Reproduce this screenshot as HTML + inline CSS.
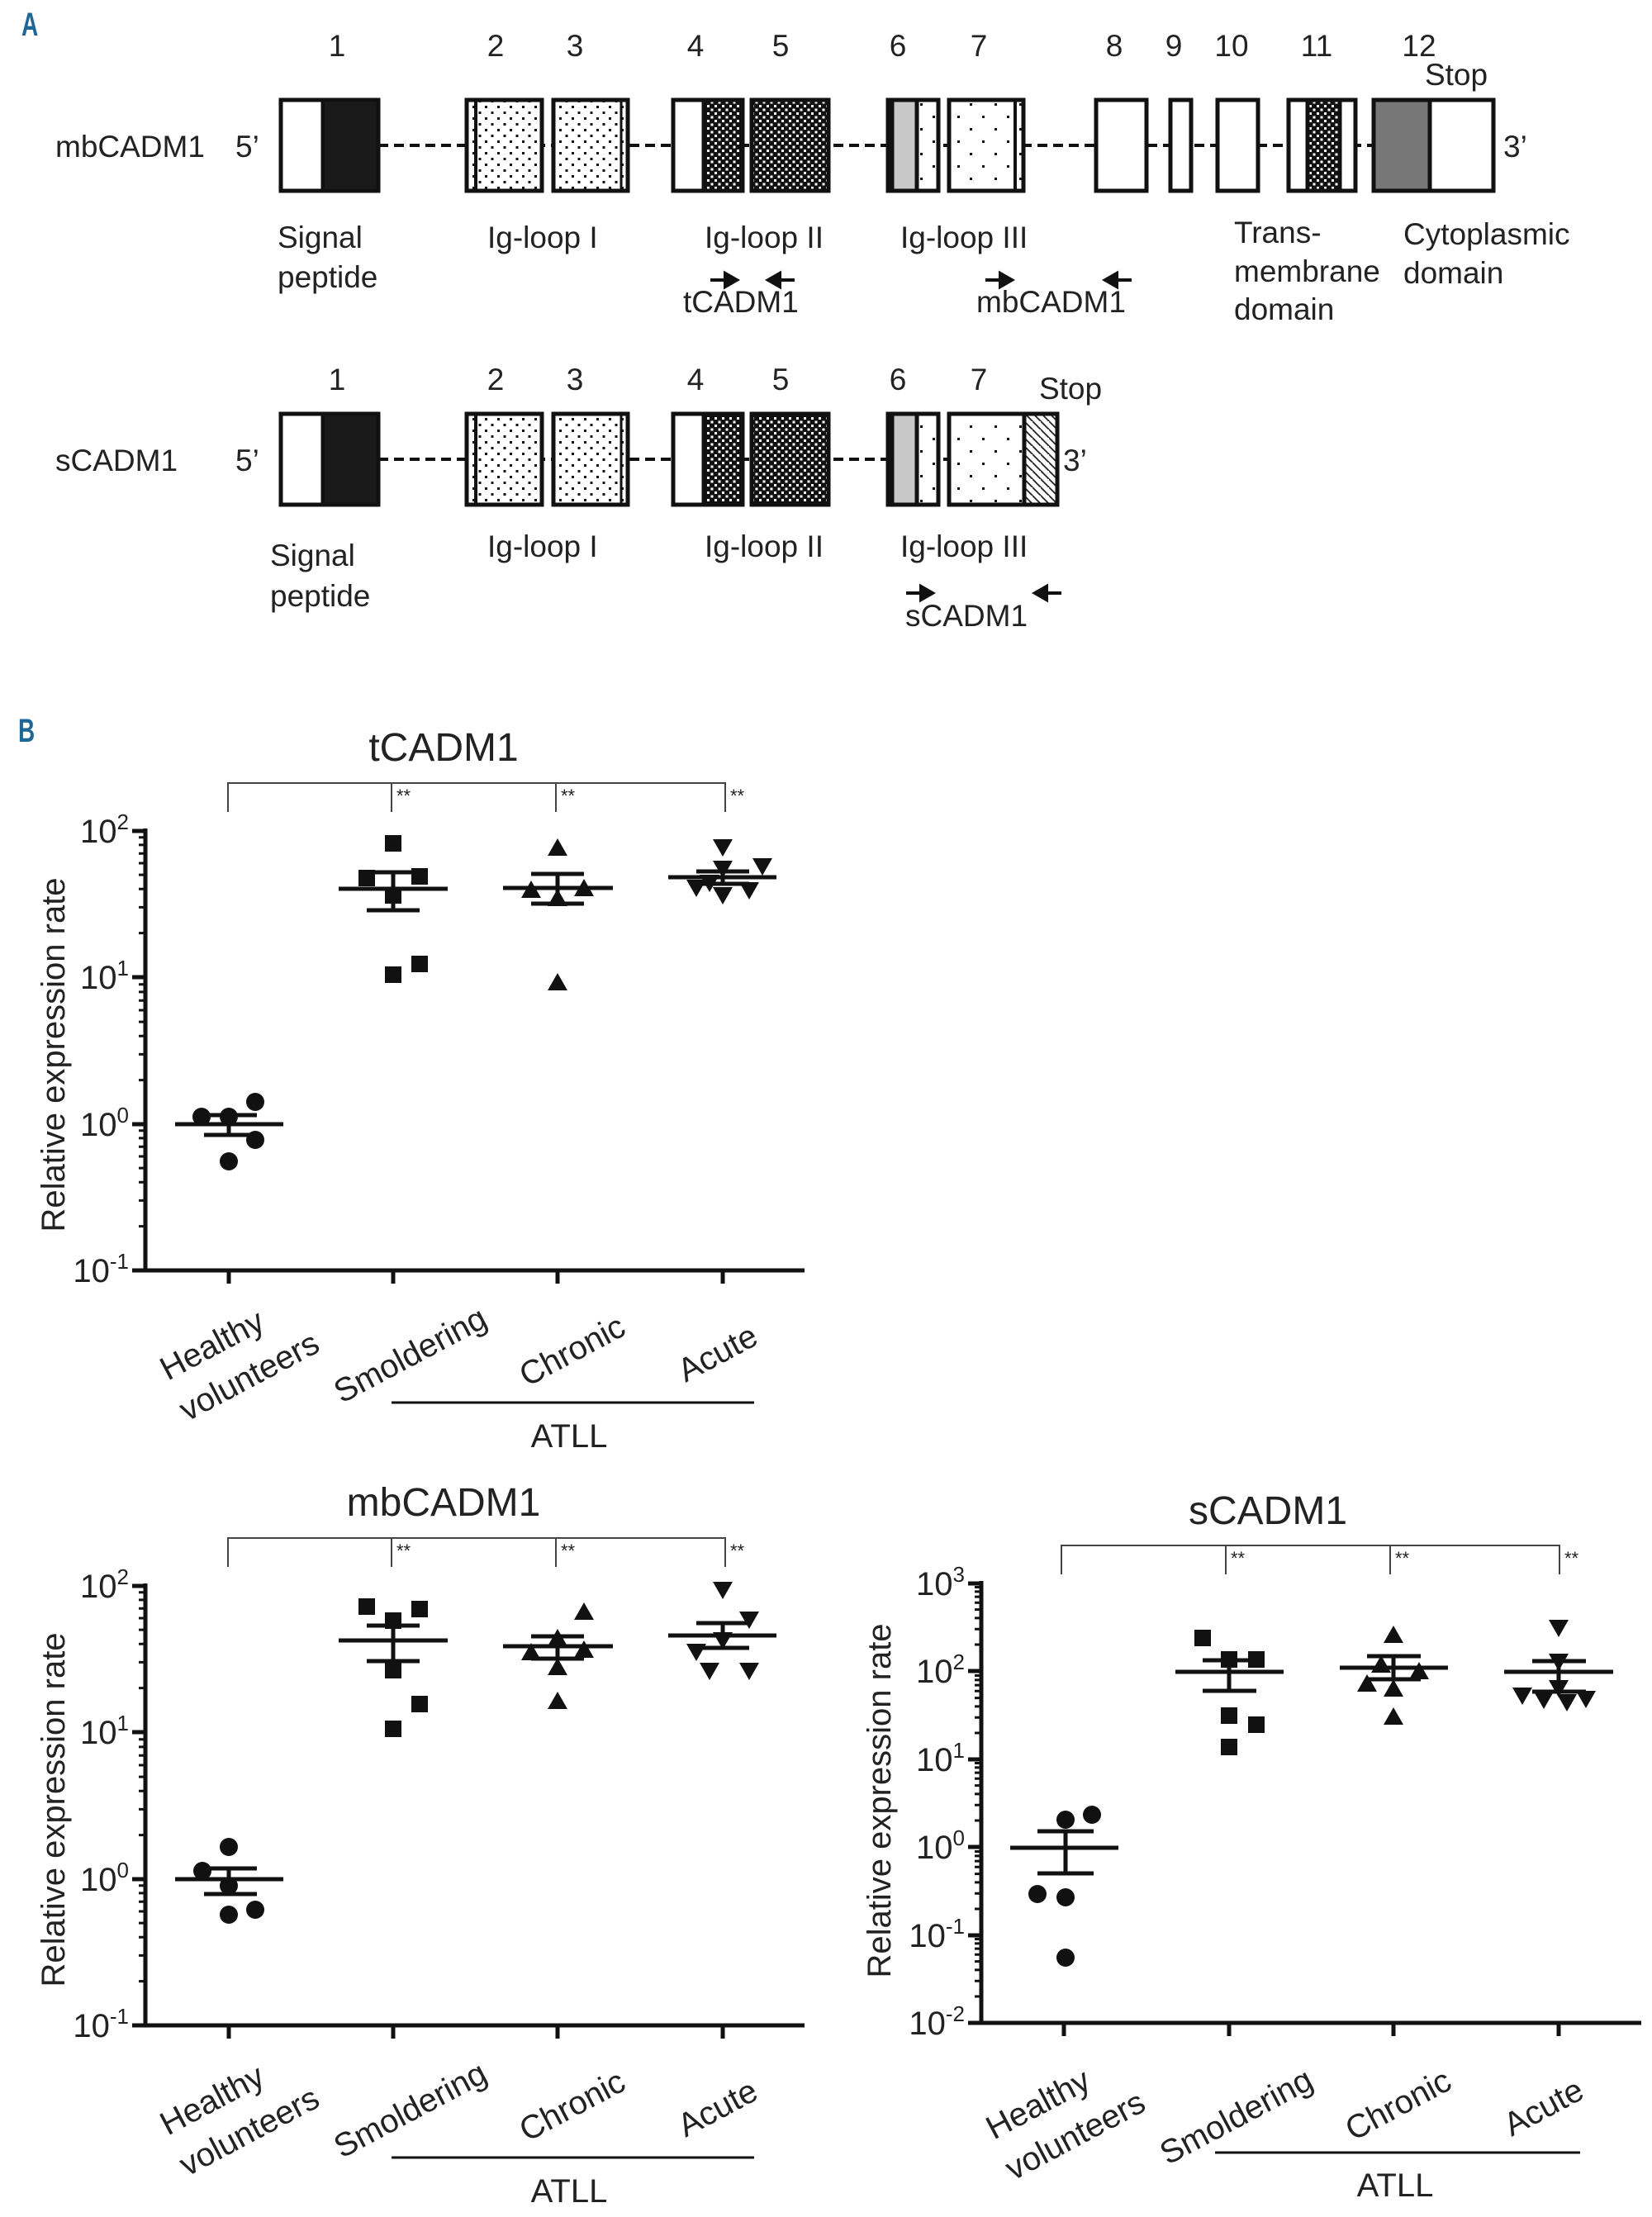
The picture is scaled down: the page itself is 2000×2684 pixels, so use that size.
<!DOCTYPE html>
<html><head><meta charset="utf-8"><style>
html,body{margin:0;padding:0;background:#fff;}
svg{display:block;font-family:"Liberation Sans",Arial,sans-serif;}
</style></head><body>
<svg width="2000" height="2684" viewBox="0 0 2000 2684" xmlns="http://www.w3.org/2000/svg">
<defs>
<pattern id="dd" width="15" height="14" patternUnits="userSpaceOnUse"><rect width="15" height="14" fill="#fff"/><rect x="2" y="2" width="3" height="3" fill="#111"/><rect x="9.5" y="9" width="3" height="3" fill="#111"/></pattern>
<pattern id="sd" width="30" height="30" patternUnits="userSpaceOnUse"><rect width="30" height="30" fill="#fff"/><rect x="4" y="5" width="3" height="3" fill="#111"/><rect x="19" y="20" width="3" height="3" fill="#111"/></pattern>
<pattern id="ch" width="9" height="9" patternUnits="userSpaceOnUse"><rect width="9" height="9" fill="#111"/><rect x="1" y="1" width="3" height="3" fill="#fff"/><rect x="5.5" y="5.5" width="3" height="3" fill="#fff"/></pattern>
<pattern id="dg" width="10" height="10" patternUnits="userSpaceOnUse"><rect width="10" height="10" fill="#fff"/><path d="M0 0 L10 10 M-5 5 L5 15" stroke="#222" stroke-width="1.8"/></pattern>
<g id="dec1"><path d="M168 -53.4H176M168 -84.6H176M168 -106.7H176M168 -123.9H176M168 -138H176M168 -149.8H176M168 -160.1H176M168 -169.2H176" stroke="#111" stroke-width="3"/></g>
<g id="dec2"><path d="M1180 -32H1188M1180 -50.8H1188M1180 -64.1H1188M1180 -74.4H1188M1180 -82.8H1188M1180 -89.9H1188M1180 -96.1H1188M1180 -101.5H1188" stroke="#111" stroke-width="3"/></g>
</defs>

<text x="26" y="43" font-size="40" font-weight="bold" fill="#1f6696" transform="translate(26 0) scale(0.7 1) translate(-26 0)">A</text>
<text x="22" y="898" font-size="40" font-weight="bold" fill="#1f6696" transform="translate(22 0) scale(0.7 1) translate(-22 0)">B</text>

<g font-size="37" fill="#222" text-anchor="middle">
<text x="408" y="68">1</text><text x="600" y="68">2</text><text x="696" y="68">3</text><text x="842" y="68">4</text><text x="945" y="68">5</text><text x="1087" y="68">6</text><text x="1185" y="68">7</text><text x="1349" y="68">8</text><text x="1421" y="68">9</text><text x="1491" y="68">10</text><text x="1594" y="68">11</text><text x="1718" y="68">12</text>
<text x="1763" y="103">Stop</text>
</g>
<text x="67" y="190" font-size="37" fill="#222">mbCADM1</text>
<text x="285" y="190" font-size="37" fill="#222">5’</text>
<text x="1820" y="190" font-size="37" fill="#222">3’</text>
<line x1="458" y1="176" x2="1663" y2="176" stroke="#111" stroke-width="4" stroke-dasharray="12 7"/>
<g stroke="#111" stroke-width="5">
<rect x="340" y="121" width="118" height="110" fill="#fff"/><rect x="391" y="121" width="67" height="110" fill="#1a1a1a"/>
<rect x="565" y="121" width="91" height="110" fill="url(#dd)"/><line x1="576" y1="121" x2="576" y2="231" stroke-width="4"/>
<rect x="670" y="121" width="90" height="110" fill="url(#dd)"/><line x1="752" y1="121" x2="752" y2="231" stroke-width="3"/>
<rect x="815" y="121" width="84" height="110" fill="#fff"/><rect x="852" y="121" width="47" height="110" fill="url(#ch)"/>
<rect x="910" y="121" width="93" height="110" fill="url(#ch)"/>
<rect x="1075" y="121" width="61" height="110" fill="#fff"/><rect x="1080" y="121" width="30" height="110" fill="#c8c8c8"/><rect x="1110" y="121" width="26" height="110" fill="url(#sd)"/>
<rect x="1149" y="121" width="90" height="110" fill="url(#sd)"/><line x1="1229" y1="121" x2="1229" y2="231" stroke-width="4"/>
<rect x="1327" y="121" width="61" height="110" fill="#fff"/>
<rect x="1417" y="121" width="25" height="110" fill="#fff"/>
<rect x="1474" y="121" width="49" height="110" fill="#fff"/>
<rect x="1560" y="121" width="81" height="110" fill="#fff"/><rect x="1583" y="121" width="39" height="110" fill="url(#ch)"/>
<rect x="1663" y="121" width="145" height="110" fill="#fff"/><rect x="1663" y="121" width="68" height="110" fill="#777"/>
</g>
<g font-size="37" fill="#222">
<text x="336" y="300">Signal</text><text x="336" y="348">peptide</text>
<text x="590" y="300">Ig-loop I</text>
<text x="853" y="300">Ig-loop II</text>
<text x="1090" y="300">Ig-loop III</text>
<text x="1494" y="294">Trans-</text><text x="1494" y="341">membrane</text><text x="1494" y="387">domain</text>
<text x="1699" y="296">Cytoplasmic</text><text x="1699" y="343">domain</text>
<text x="827" y="378">tCADM1</text>
<text x="1182" y="378">mbCADM1</text>
</g>
<g fill="#111" stroke="#111" stroke-width="4">
<line x1="860" y1="339" x2="880" y2="339"/><path d="M878 331 L892 339 L878 347Z"/>
<line x1="962" y1="339" x2="942" y2="339"/><path d="M944 331 L930 339 L944 347Z"/>
<line x1="1193" y1="339" x2="1213" y2="339"/><path d="M1211 331 L1225 339 L1211 347Z"/>
<line x1="1370" y1="339" x2="1350" y2="339"/><path d="M1352 331 L1338 339 L1352 347Z"/>
<line x1="1097" y1="718" x2="1117" y2="718"/><path d="M1115 710 L1129 718 L1115 726Z"/>
<line x1="1285" y1="718" x2="1265" y2="718"/><path d="M1267 710 L1253 718 L1267 726Z"/>
</g>

<g font-size="37" fill="#222" text-anchor="middle">
<text x="408" y="472">1</text><text x="600" y="472">2</text><text x="696" y="472">3</text><text x="842" y="472">4</text><text x="945" y="472">5</text><text x="1087" y="472">6</text><text x="1185" y="472">7</text>
<text x="1296" y="483">Stop</text>
</g>
<text x="67" y="570" font-size="37" fill="#222">sCADM1</text>
<text x="285" y="570" font-size="37" fill="#222">5’</text>
<text x="1287" y="570" font-size="37" fill="#222">3’</text>
<line x1="458" y1="556" x2="1150" y2="556" stroke="#111" stroke-width="4" stroke-dasharray="12 7"/>
<g stroke="#111" stroke-width="5">
<rect x="340" y="501" width="118" height="110" fill="#fff"/><rect x="391" y="501" width="67" height="110" fill="#1a1a1a"/>
<rect x="565" y="501" width="91" height="110" fill="url(#dd)"/><line x1="576" y1="501" x2="576" y2="611" stroke-width="4"/>
<rect x="670" y="501" width="90" height="110" fill="url(#dd)"/><line x1="752" y1="501" x2="752" y2="611" stroke-width="3"/>
<rect x="815" y="501" width="84" height="110" fill="#fff"/><rect x="852" y="501" width="47" height="110" fill="url(#ch)"/>
<rect x="910" y="501" width="93" height="110" fill="url(#ch)"/>
<rect x="1075" y="501" width="61" height="110" fill="#fff"/><rect x="1080" y="501" width="30" height="110" fill="#c8c8c8"/><rect x="1110" y="501" width="26" height="110" fill="url(#sd)"/>
<rect x="1149" y="501" width="131" height="110" fill="url(#sd)"/><rect x="1240" y="501" width="40" height="110" fill="url(#dg)"/>
</g>
<g font-size="37" fill="#222">
<text x="327" y="685">Signal</text><text x="327" y="734">peptide</text>
<text x="590" y="674">Ig-loop I</text>
<text x="853" y="674">Ig-loop II</text>
<text x="1090" y="674">Ig-loop III</text>
<text x="1096" y="758">sCADM1</text>
</g>

<g id="plotT">
<text x="537" y="921" font-size="48" text-anchor="middle" fill="#222">tCADM1</text>
<path d="M276 983V948H878V983M474 948V983M673 948V983" fill="none" stroke="#444" stroke-width="2"/>
<g font-size="22" fill="#222"><text x="480" y="971">**</text><text x="679" y="971">**</text><text x="884" y="971">**</text></g>
<line x1="176" y1="1003" x2="176" y2="1540" stroke="#111" stroke-width="5"/>
<line x1="163" y1="1538" x2="974" y2="1538" stroke="#111" stroke-width="5"/>
<path d="M160 1006H176M160 1183H176M160 1361H176M160 1538H176M277 1538V1554M476 1538V1554M675 1538V1554M875 1538V1554" stroke="#111" stroke-width="5"/>
<use href="#dec1" transform="translate(0 1538)"/><use href="#dec1" transform="translate(0 1361)"/><use href="#dec1" transform="translate(0 1183)"/>
<g font-size="40" fill="#222" text-anchor="end">
<text x="156" y="1020">10<tspan font-size="26" dy="-16">2</tspan></text>
<text x="156" y="1197">10<tspan font-size="26" dy="-16">1</tspan></text>
<text x="156" y="1375">10<tspan font-size="26" dy="-16">0</tspan></text>
<text x="156" y="1552">10<tspan font-size="26" dy="-16">-1</tspan></text>
</g>
<text transform="translate(78 1277) rotate(-90)" font-size="40" text-anchor="middle" fill="#222">Relative expression rate</text>
<g font-size="40" fill="#222" text-anchor="middle">
<text transform="translate(263 1640) rotate(-28)">Healthy</text>
<text transform="translate(308 1678) rotate(-28)">volunteers</text>
<text transform="translate(503 1652) rotate(-28)">Smoldering</text>
<text transform="translate(699 1647) rotate(-28)">Chronic</text>
<text transform="translate(875 1650) rotate(-28)">Acute</text>
<text x="689" y="1752">ATLL</text>
</g>
<line x1="474" y1="1698" x2="913" y2="1698" stroke="#111" stroke-width="3"/>
</g>

<g fill="#111" stroke="#111" stroke-width="5">
<path d="M212 1361H343M247 1350H311M247 1374H311M277 1350V1374"/>
<path d="M410 1076H542M444 1056H508M444 1102H508M476 1056V1102"/>
<path d="M609 1075H742M643 1058H707M643 1094H707M675 1058V1094"/>
<path d="M809 1062H940M843 1055H907M843 1070H907M875 1055V1070"/>
</g>
<g fill="#111">
<circle cx="244" cy="1352" r="11"/><circle cx="277" cy="1352" r="11"/><circle cx="309" cy="1334" r="11"/><circle cx="309" cy="1380" r="11"/><circle cx="277" cy="1406" r="11"/>
<rect x="466" y="1011" width="20" height="20"/><rect x="434" y="1053" width="20" height="20"/><rect x="498" y="1051" width="20" height="20"/><rect x="466" y="1074" width="20" height="20"/><rect x="466" y="1170" width="20" height="20"/><rect x="498" y="1157" width="20" height="20"/>
<path d="M675 1015l12 21h-24z M643 1066l12 21h-24z M707 1064l12 21h-24z M675 1076l12 21h-24z M675 1178l12 21h-24z"/>
<path d="M875 1037l12 -21h-24z M843 1086l12 -21h-24z M923 1060l12 -21h-24z M875 1063l12 -21h-24z M907 1089l12 -21h-24z M875 1095l12 -21h-24z M859 1080l12 -21h-24z"/>
</g>

<g transform="translate(0 914)">
<text x="537" y="921" font-size="48" text-anchor="middle" fill="#222">mbCADM1</text>
<path d="M276 983V948H878V983M474 948V983M673 948V983" fill="none" stroke="#444" stroke-width="2"/>
<g font-size="22" fill="#222"><text x="480" y="971">**</text><text x="679" y="971">**</text><text x="884" y="971">**</text></g>
<line x1="176" y1="1003" x2="176" y2="1540" stroke="#111" stroke-width="5"/>
<line x1="163" y1="1538" x2="974" y2="1538" stroke="#111" stroke-width="5"/>
<path d="M160 1006H176M160 1183H176M160 1361H176M160 1538H176M277 1538V1554M476 1538V1554M675 1538V1554M875 1538V1554" stroke="#111" stroke-width="5"/>
<use href="#dec1" transform="translate(0 1538)"/><use href="#dec1" transform="translate(0 1361)"/><use href="#dec1" transform="translate(0 1183)"/>
<g font-size="40" fill="#222" text-anchor="end">
<text x="156" y="1020">10<tspan font-size="26" dy="-16">2</tspan></text>
<text x="156" y="1197">10<tspan font-size="26" dy="-16">1</tspan></text>
<text x="156" y="1375">10<tspan font-size="26" dy="-16">0</tspan></text>
<text x="156" y="1552">10<tspan font-size="26" dy="-16">-1</tspan></text>
</g>
<text transform="translate(78 1277) rotate(-90)" font-size="40" text-anchor="middle" fill="#222">Relative expression rate</text>
<g font-size="40" fill="#222" text-anchor="middle">
<text transform="translate(263 1640) rotate(-28)">Healthy</text>
<text transform="translate(308 1678) rotate(-28)">volunteers</text>
<text transform="translate(503 1652) rotate(-28)">Smoldering</text>
<text transform="translate(699 1647) rotate(-28)">Chronic</text>
<text transform="translate(875 1650) rotate(-28)">Acute</text>
<text x="689" y="1752">ATLL</text>
</g>
<line x1="474" y1="1698" x2="913" y2="1698" stroke="#111" stroke-width="3"/>
</g>
<g fill="#111" stroke="#111" stroke-width="5">
<path d="M212 2275H343M247 2262H311M247 2293H311M277 2262V2293"/>
<path d="M410 1986H542M444 1968H508M444 2011H508M476 1968V2011"/>
<path d="M609 1993H742M643 1981H707M643 2008H707M675 1981V2008"/>
<path d="M809 1980H940M843 1965H907M843 1995H907M875 1965V1995"/>
</g>
<g fill="#111">
<circle cx="245" cy="2265" r="11"/><circle cx="277" cy="2236" r="11"/><circle cx="277" cy="2283" r="11"/><circle cx="277" cy="2318" r="11"/><circle cx="309" cy="2312" r="11"/>
<rect x="434" y="1935" width="20" height="20"/><rect x="498" y="1938" width="20" height="20"/><rect x="466" y="1952" width="20" height="20"/><rect x="466" y="2012" width="20" height="20"/><rect x="498" y="2053" width="20" height="20"/><rect x="466" y="2083" width="20" height="20"/>
<path d="M707 1940l12 21h-24z M675 1972l12 21h-24z M643 1989l12 21h-24z M707 1986l12 21h-24z M675 2007l12 21h-24z M675 2048l12 21h-24z"/>
<path d="M875 1936l12 -21h-24z M843 2011l12 -21h-24z M907 1972l12 -21h-24z M875 1997l12 -21h-24z M859 2034l12 -21h-24z M907 2034l12 -21h-24z"/>
</g>

<text x="1535" y="1845" font-size="48" text-anchor="middle" fill="#222">sCADM1</text>
<path d="M1285 1906V1871H1888V1906M1484 1871V1906M1683 1871V1906" fill="none" stroke="#444" stroke-width="2"/>
<g font-size="22" fill="#222"><text x="1490" y="1894">**</text><text x="1689" y="1894">**</text><text x="1894" y="1894">**</text></g>
<line x1="1188" y1="1914" x2="1188" y2="2451" stroke="#111" stroke-width="5"/>
<line x1="1176" y1="2449" x2="1987" y2="2449" stroke="#111" stroke-width="5"/>
<path d="M1172 1917H1188M1172 2023H1188M1172 2130H1188M1172 2236H1188M1172 2343H1188M1172 2449H1188M1288 2449V2465M1488 2449V2465M1687 2449V2465M1887 2449V2465" stroke="#111" stroke-width="5"/>
<use href="#dec2" transform="translate(0 2449)"/><use href="#dec2" transform="translate(0 2343)"/><use href="#dec2" transform="translate(0 2236)"/><use href="#dec2" transform="translate(0 2130)"/><use href="#dec2" transform="translate(0 2023)"/>
<g font-size="40" fill="#222" text-anchor="end">
<text x="1168" y="1931">10<tspan font-size="26" dy="-16">3</tspan></text>
<text x="1168" y="2037">10<tspan font-size="26" dy="-16">2</tspan></text>
<text x="1168" y="2144">10<tspan font-size="26" dy="-16">1</tspan></text>
<text x="1168" y="2250">10<tspan font-size="26" dy="-16">0</tspan></text>
<text x="1168" y="2357">10<tspan font-size="26" dy="-16">-1</tspan></text>
<text x="1168" y="2463">10<tspan font-size="26" dy="-16">-2</tspan></text>
</g>
<text transform="translate(1078 2180) rotate(-90)" font-size="40" text-anchor="middle" fill="#222">Relative expression rate</text>
<g font-size="40" fill="#222" text-anchor="middle">
<text transform="translate(1263 2559) rotate(-28)">Healthy</text>
<text transform="translate(1308 2597) rotate(-28)">volunteers</text>
<text transform="translate(1503 2574) rotate(-28)">Smoldering</text>
<text transform="translate(1699 2560) rotate(-28)">Chronic</text>
<text transform="translate(1875 2563) rotate(-28)">Acute</text>
<text x="1689" y="2659">ATLL</text>
</g>
<line x1="1471" y1="2606" x2="1913" y2="2606" stroke="#111" stroke-width="3"/>
<g fill="#111" stroke="#111" stroke-width="5">
<path d="M1223 2237H1354M1256 2217H1324M1256 2268H1324M1290 2217V2268"/>
<path d="M1423 2024H1554M1456 2010H1521M1456 2047H1521M1488 2010V2047"/>
<path d="M1622 2019H1753M1655 2005H1720M1655 2033H1720M1687 2005V2033"/>
<path d="M1821 2024H1953M1855 2011H1920M1855 2048H1920M1887 2011V2048"/>
</g>
<g fill="#111">
<circle cx="1290" cy="2203" r="11"/><circle cx="1322" cy="2197" r="11"/><circle cx="1256" cy="2293" r="11"/><circle cx="1290" cy="2297" r="11"/><circle cx="1290" cy="2370" r="11"/>
<rect x="1446" y="1973" width="20" height="20"/><rect x="1478" y="1999" width="20" height="20"/><rect x="1511" y="1999" width="20" height="20"/><rect x="1478" y="2067" width="20" height="20"/><rect x="1511" y="2078" width="20" height="20"/><rect x="1478" y="2105" width="20" height="20"/>
<path d="M1687 1968l12 21h-24z M1672 2004l12 21h-24z M1718 2012l12 21h-24z M1655 2027l12 21h-24z M1687 2033l12 21h-24z M1687 2067l12 21h-24z"/>
<path d="M1887 1982l12 -21h-24z M1887 2023l12 -21h-24z M1843 2064l12 -21h-24z M1869 2069l12 -21h-24z M1897 2072l12 -21h-24z M1920 2068l12 -21h-24z M1887 2055l12 -21h-24z"/>
</g>
</svg>
</body></html>
